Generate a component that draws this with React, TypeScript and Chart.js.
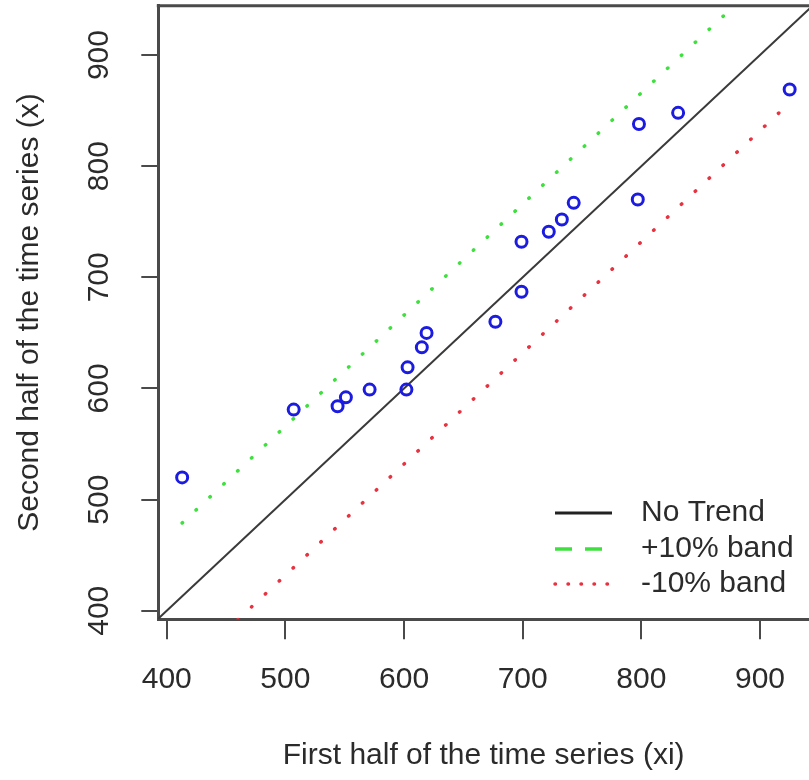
import React, { useEffect, useRef } from 'react';
import { Chart, registerables } from 'chart.js';

Chart.register(...registerables);

// ---- data ----
const firstHalf = [413, 507, 544, 551, 571, 602, 603, 615, 619, 677, 699, 699, 722, 733, 743, 797, 798, 831, 925];
const secondHalf = [520, 581, 584, 592, 599, 599, 619, 637, 650, 660, 687, 732, 741, 752, 767, 770, 838, 848, 869];
const xTickValues = [400, 500, 600, 700, 800, 900];
const yTickValues = [400, 500, 600, 700, 800, 900];
const xLimits = [392.9, 941.3];
const yLimits = [392.3, 944.4];
const trendEnds = [380, 960];
const upperBandOffset = 66;
const lowerBandOffset = -68;
const seriesLabels = ['Observations', 'No Trend', '+10% band', '-10% band'];
const xTitle = 'First half of the time series (xi)';
const yTitle = 'Second half of the time series (x)';

const FONT = "'Liberation Sans', Arial, Helvetica, sans-serif";
const TEXT = '#2b2b2b';
const AXIS = '#4a4a4a';
const BLUE = '#1c1ce0';
const GREEN = '#3ee03e';
const RED = '#e8323f';

const bandStart = Math.min(...firstHalf);
const bandEnd = Math.max(...firstHalf);

const legendStyles = [
  { color: '#222222', width: 3, dash: [] as number[], cap: 'butt' as CanvasLineCap },
  { color: GREEN, width: 3.5, dash: [17, 13], cap: 'butt' as CanvasLineCap },
  { color: RED, width: 3.5, dash: [0.5, 12.5], cap: 'round' as CanvasLineCap },
];

const rPlotPlugin = {
  id: 'rPlot',
  afterDraw(chart: any) {
    const { ctx, chartArea: a, scales } = chart;
    ctx.save();
    // top border of the box
    ctx.strokeStyle = AXIS;
    ctx.lineWidth = 3;
    ctx.beginPath();
    ctx.moveTo(a.left - 1.5, a.top);
    ctx.lineTo(a.right, a.top);
    ctx.stroke();

    // rotated y tick labels (R style)
    ctx.fillStyle = TEXT;
    ctx.font = `30px ${FONT}`;
    ctx.textAlign = 'center';
    ctx.textBaseline = 'middle';
    yTickValues.forEach((v) => {
      const y = scales.y.getPixelForValue(v);
      ctx.save();
      ctx.translate(100, y);
      ctx.rotate(-Math.PI / 2);
      ctx.fillText(String(v), 0, 0);
      ctx.restore();
    });

    // legend (no box)
    const rows = [513, 549, 584];
    legendStyles.forEach((s, i) => {
      const y = rows[i];
      ctx.strokeStyle = s.color;
      ctx.lineWidth = s.width;
      ctx.lineCap = s.cap;
      ctx.setLineDash(s.dash);
      ctx.beginPath();
      ctx.moveTo(555, y);
      ctx.lineTo(612, y);
      ctx.stroke();
      ctx.setLineDash([]);
      ctx.fillStyle = TEXT;
      ctx.textAlign = 'left';
      ctx.textBaseline = 'middle';
      ctx.fillText(seriesLabels[i + 1], 641, y);
    });
    ctx.restore();
  },
};

export default function App() {
  const ref = useRef<HTMLCanvasElement>(null);
  useEffect(() => {
    const points = firstHalf.map((x, i) => ({ x, y: secondHalf[i] }));
    const trend = trendEnds.map((v) => ({ x: v, y: v }));
    const upper = [bandStart, bandEnd].map((v) => ({ x: v, y: v + upperBandOffset }));
    const lower = [bandStart, bandEnd].map((v) => ({ x: v, y: v + lowerBandOffset }));

    const chart = new Chart(ref.current as HTMLCanvasElement, {
      type: 'scatter',
      data: {
        datasets: [
          {
            label: seriesLabels[0],
            data: points,
            showLine: false,
            pointRadius: 5.5,
            pointHoverRadius: 5.5,
            pointBorderWidth: 3,
            pointBackgroundColor: 'rgba(0,0,0,0)',
            pointBorderColor: BLUE,
            borderColor: BLUE,
            order: 0,
          },
          {
            label: seriesLabels[1],
            data: trend,
            showLine: true,
            pointRadius: 0,
            borderColor: '#3a3a3a',
            borderWidth: 2,
            order: 1,
          },
          {
            label: seriesLabels[2],
            data: upper,
            showLine: true,
            pointRadius: 0,
            borderColor: GREEN,
            borderWidth: 3.5,
            borderDash: [0.5, 18.5],
            borderCapStyle: 'round',
            order: 1,
          },
          {
            label: seriesLabels[3],
            data: lower,
            showLine: true,
            pointRadius: 0,
            borderColor: RED,
            borderWidth: 3.5,
            borderDash: [0.5, 18.5],
            borderCapStyle: 'round',
            order: 1,
          },
        ],
      },
      options: {
        responsive: false,
        animation: false,
        devicePixelRatio: 1,
        layout: { autoPadding: false, padding: { top: 5.7, right: 0, left: 0, bottom: 0 } },
        plugins: {
          legend: { display: false },
          tooltip: { enabled: false },
          title: { display: false },
        },
        scales: {
          x: {
            type: 'linear',
            position: 'bottom',
            min: xLimits[0],
            max: xLimits[1],
            afterBuildTicks: (s: any) => {
              s.ticks = xTickValues.map((v) => ({ value: v }));
            },
            afterFit: (s: any) => {
              s.height = 780 - 619.3;
              s.paddingLeft = 0;
              s.paddingRight = 0;
            },
            ticks: {
              autoSkip: false,
              maxRotation: 0,
              minRotation: 0,
              padding: 22,
              color: TEXT,
              font: { family: FONT, size: 30 },
              callback: (v: any) => String(v),
            },
            grid: {
              display: true,
              drawOnChartArea: false,
              drawTicks: true,
              tickLength: 20,
              color: AXIS,
              lineWidth: 2,
            },
            border: { display: true, color: AXIS, width: 3 },
            title: {
              display: true,
              text: xTitle,
              color: TEXT,
              font: { family: FONT, size: 30 },
              padding: { top: 0, bottom: 6 },
            },
          },
          y: {
            type: 'linear',
            position: 'left',
            min: yLimits[0],
            max: yLimits[1],
            afterBuildTicks: (s: any) => {
              s.ticks = yTickValues.map((v) => ({ value: v }));
            },
            afterFit: (s: any) => {
              s.width = 158.3;
              s.paddingTop = 0;
              s.paddingBottom = 0;
            },
            ticks: { display: false },
            grid: {
              display: true,
              drawOnChartArea: false,
              drawTicks: true,
              tickLength: 17,
              color: AXIS,
              lineWidth: 2,
            },
            border: { display: true, color: AXIS, width: 3 },
            title: {
              display: true,
              text: yTitle,
              color: TEXT,
              font: { family: FONT, size: 30 },
              padding: { top: 12, bottom: 0 },
            },
          },
        },
      },
      plugins: [rPlotPlugin],
    });
    return () => chart.destroy();
  }, []);

  return (
    <div style={{ position: 'absolute', left: 0, top: 0, width: 809, height: 780, background: '#ffffff' }}>
      <canvas ref={ref} width={809} height={780} style={{ width: 809, height: 780, display: 'block' }} />
    </div>
  );
}
